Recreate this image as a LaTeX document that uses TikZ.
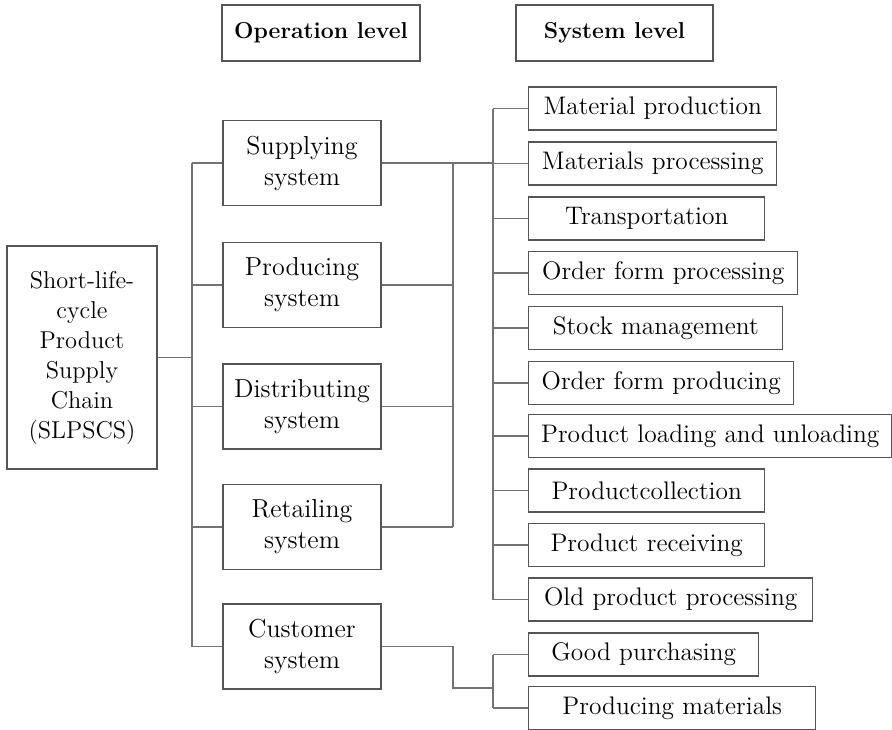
\documentclass[tikz,border=0pt]{standalone}
\usepackage{tikz}
\usetikzlibrary{positioning,calc}
\definecolor{boxgray}{RGB}{85,85,85}
\definecolor{linegray}{RGB}{115,115,115}

\tikzset{
  headbox/.style={draw=boxgray, line width=0.7pt, minimum height=28pt,
                  font=\fontsize{11.5}{14}\selectfont\bfseries},
  opbox/.style={draw=boxgray, line width=0.7pt, minimum width=79pt,
                minimum height=42.5pt, align=center, inner sep=1pt,
                font=\fontsize{13}{15.5}\selectfont},
  sysbox/.style={draw=boxgray, line width=0.7pt, minimum height=21.5pt,
                 anchor=west, inner sep=1pt},
  conn/.style={draw=linegray, line width=0.6pt},
}

\begin{document}
\begin{tikzpicture}[x=0.5pt, y=-0.5pt, font=\fontsize{12.7}{15}\selectfont]
  \useasboundingbox (0,0) rectangle (892,729);

  % Level headers
  \node[headbox, minimum width=99pt] (oplevel) at (321,33) {Operation level};
  \node[headbox, minimum width=98.5pt] (syslevel) at (614.5,33) {System level};

  % Whole chain
  \node[draw=boxgray, line width=0.7pt, minimum width=75pt, minimum height=111.5pt,
        align=center, inner sep=1pt, font=\fontsize{12.2}{15}\selectfont] (chain) at (82,357.5)
        {Short-life-\\cycle\\Product\\Supply\\Chain\\(SLPSCS)};

  % Operation level boxes
  \node[opbox] (supply) at (302,163)   {Supplying\\system};
  \node[opbox] (produce) at (302,285)  {Producing\\system};
  \node[opbox] (distrib) at (302,406.5) {Distributing\\system};
  \node[opbox] (retail) at (302,527)   {Retailing\\system};
  \node[opbox] (custom) at (302,646.5) {Customer\\system};

  % System level boxes
  \foreach \nm/\yy/\ww/\txt in {matprod/108.5/248/Material production,
      matproc/163.5/248/Materials processing,
      transp/218.5/236/Transportation,
      ordproc/273/269/Order form processing,
      stock/328/254/Stock management,
      ordmake/383/265/Order form producing,
      loading/436/363/Product loading and unloading,
      collect/490.5/236/Productcollection,
      receive/545/236/Product receiving,
      oldproc/599.5/284/Old product processing,
      goodbuy/654.5/230/Good purchasing,
      prodmat/708/287/Producing materials}{
    \node[sysbox, minimum width=\ww*0.5pt] (\nm) at (528,\yy) {\txt};
  }

  % Trunk lines
  \coordinate (ltrunk) at (192,0);
  \coordinate (mtrunk) at (453,0);
  \coordinate (rtrunk) at (493,0);
  \coordinate (custbend) at (453,688);

  \draw[conn] (chain.east) -- (chain.east -| ltrunk);
  \draw[conn] (supply.west -| ltrunk) -- (custom.west -| ltrunk);
  \foreach \nm in {supply,produce,distrib,retail,custom}
    \draw[conn] (\nm.west) -- (\nm.west -| ltrunk);

  \foreach \nm in {supply,produce,distrib,retail}
    \draw[conn] (\nm.east) -- (\nm.east -| mtrunk);
  \draw[conn] (supply.east -| mtrunk) -- (retail.east -| mtrunk);
  \draw[conn] (supply.east -| mtrunk) -- (supply.east -| rtrunk);

  \draw[conn] (matprod.west -| rtrunk) -- (oldproc.west -| rtrunk);
  \foreach \nm in {matprod,matproc,transp,ordproc,stock,ordmake,loading,collect,receive,oldproc}
    \draw[conn] (\nm.west) -- (\nm.west -| rtrunk);

  % Customer branch
  \draw[conn] (custom.east) -| (custbend) -- (custbend -| rtrunk);
  \draw[conn] (goodbuy.west -| rtrunk) -- (prodmat.west -| rtrunk);
  \foreach \nm in {goodbuy,prodmat}
    \draw[conn] (\nm.west) -- (\nm.west -| rtrunk);
\end{tikzpicture}
\end{document}
